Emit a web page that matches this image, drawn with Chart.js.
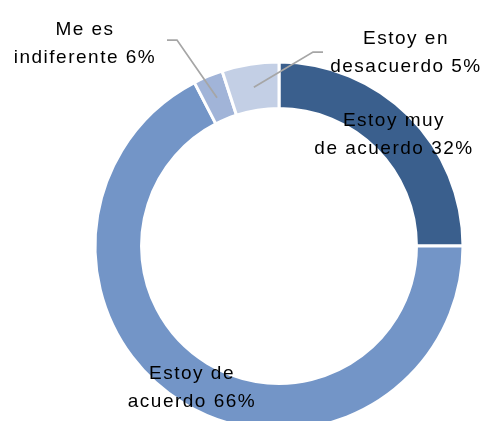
<!DOCTYPE html>
<html>
<head>
<meta charset="utf-8">
<script src="https://cdn.jsdelivr.net/npm/chart.js@4/dist/chart.umd.min.js"></script>
<style>
  html, body { margin: 0; padding: 0; background: #fff; overflow: hidden; }
  #wrap { position: relative; width: 485px; height: 440px; }
</style>
</head>
<body>
<div id="wrap"><canvas id="chart"></canvas></div>
<script>
const categories = ['Estoy muy de acuerdo', 'Estoy de acuerdo', 'Me es indiferente', 'Estoy en desacuerdo'];
const values = [25, 67.4, 2.6, 5];
const printedPct = [32, 66, 6, 5];
const labelLines = [
  ['Estoy muy', 'de acuerdo ' + printedPct[0] + '%'],
  ['Estoy de', 'acuerdo ' + printedPct[1] + '%'],
  ['Me es', 'indiferente ' + printedPct[2] + '%'],
  ['Estoy en', 'desacuerdo ' + printedPct[3] + '%']
];
const colors = ['#3A5F8D', '#7395C7', '#A1B4D8', '#C3CFE5'];

// label placement relative to the doughnut centre; leader = elbow points
const labelLayout = [
  { dx: 115, dy: -111 },
  { dx: -87, dy: 142 },
  { dx: -194, dy: -202, leader: [[-112, -206], [-102, -206]] },
  { dx: 127, dy: -193, leader: [[44, -194], [34, -194]] }
];

const sliceLabels = {
  id: 'sliceLabels',
  afterDatasetsDraw(chart) {
    const ctx = chart.ctx;
    const arcs = chart.getDatasetMeta(0).data;
    ctx.save();
    arcs.forEach((arc, i) => {
      const cx = arc.x, cy = arc.y;
      const lay = labelLayout[i];
      if (lay.leader) {
        const end = arc.tooltipPosition();
        ctx.strokeStyle = '#A6A6A6';
        ctx.lineWidth = 1.75;
        ctx.beginPath();
        ctx.moveTo(cx + lay.leader[0][0], cy + lay.leader[0][1]);
        ctx.lineTo(cx + lay.leader[1][0], cy + lay.leader[1][1]);
        ctx.lineTo(end.x, end.y);
        ctx.stroke();
      }
      ctx.fillStyle = '#000';
      ctx.font = '19px "Liberation Sans", Arial, sans-serif';
      ctx.letterSpacing = '1.5px';
      ctx.textAlign = 'center';
      ctx.textBaseline = 'middle';
      const lines = labelLines[i];
      lines.forEach((t, j) => {
        ctx.fillText(t, cx + lay.dx, cy + lay.dy + (j - (lines.length - 1) / 2) * 28);
      });
    });
    ctx.restore();
  }
};

new Chart(document.getElementById('chart'), {
  type: 'doughnut',
  data: {
    labels: categories,
    datasets: [{
      data: values,
      backgroundColor: colors,
      borderColor: '#ffffff',
      borderWidth: 3,
      hoverOffset: 0
    }]
  },
  options: {
    responsive: true,
    maintainAspectRatio: false,
    animation: false,
    radius: 184,
    cutout: '74.7%',
    layout: { padding: { left: 95, right: 22, top: 62, bottom: 10 } },
    plugins: {
      legend: { display: false },
      tooltip: { enabled: false }
    }
  },
  plugins: [sliceLabels]
});
</script>
</body>
</html>
